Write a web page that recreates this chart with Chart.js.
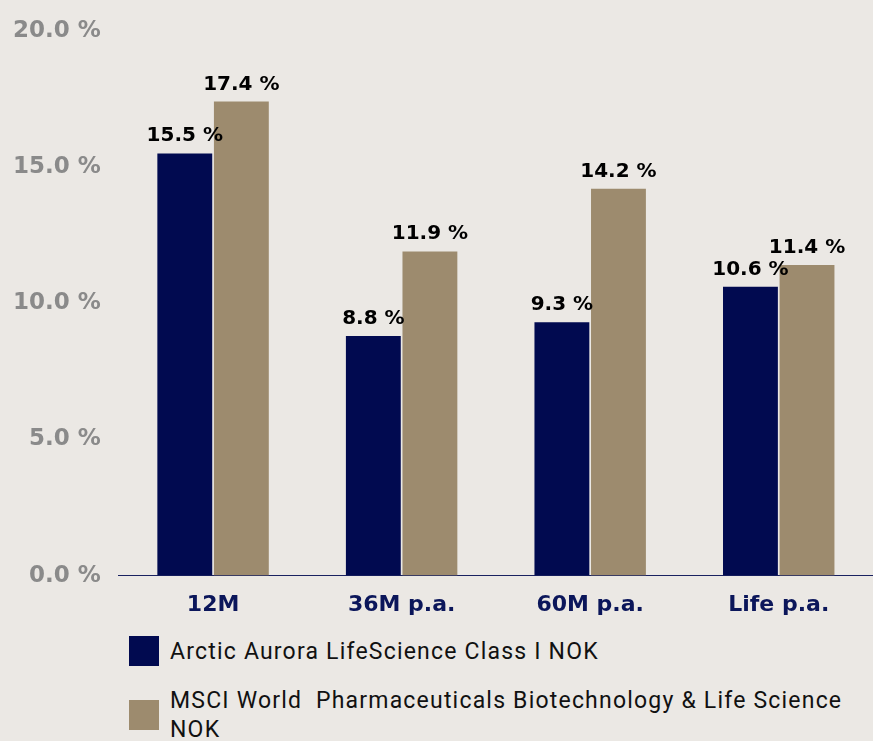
<html>
<head>
    <title>Returns Chart</title>
    <script src="https://cdn.jsdelivr.net/npm/chart.js@4.4.0/dist/chart.umd.min.js"></script>
    <style>
        body { margin: 0; background: #ebe8e4; width: 873px; height: 741px; overflow: hidden; position: relative; }
        #wrap { position: absolute; left: 0; top: 7px; width: 873px; height: 619px; }
        #legend { position: absolute; left: 129px; top: 636px; width: 735px; font-family: Roboto, sans-serif; font-size: 23px; letter-spacing: 1.2px; color: #111; }
        .item { display: flex; align-items: center; margin-bottom: 20px; }
        .box { width: 30px; height: 30px; flex: none; margin-right: 11px; }
        .item span { line-height: 29px; }
    </style>
</head>
<body>
    <div id="wrap"><canvas id="chart"></canvas></div>
    <div id="legend"></div>

    <script>
        // data
        const categories = ['12M', '36M p.a.', '60M p.a.', 'Life p.a.'];
        const fundValues = [15.5, 8.8, 9.3, 10.6];
        const indexValues = [17.4, 11.9, 14.2, 11.4];
        const seriesNames = ['Arctic Aurora LifeScience Class I NOK', 'MSCI World  Pharmaceuticals Biotechnology & Life Science NOK'];
        const yTicks = [0, 5, 10, 15, 20];

        const colors = ['#010a50', '#9d8b6e'];
        const labelFont = '"DejaVu Sans", sans-serif';

        // draws the value above each bar
        const valueLabels = {
            id: 'valueLabels',
            afterDatasetsDraw(chart) {
                const ctx = chart.ctx;
                ctx.save();
                ctx.font = 'bold 20px ' + labelFont;
                ctx.fillStyle = '#000';
                ctx.textAlign = 'center';
                ctx.textBaseline = 'alphabetic';
                chart.data.datasets.forEach((ds, i) => {
                    chart.getDatasetMeta(i).data.forEach((bar, j) => {
                        ctx.fillText(ds.data[j].toFixed(1) + ' %', bar.x, bar.y - 12);
                    });
                });
                ctx.restore();
            }
        };

        const chart = new Chart(document.getElementById('chart'), {
            type: 'bar',
            data: {
                labels: categories,
                datasets: [
                    { label: seriesNames[0], data: fundValues, backgroundColor: colors[0], categoryPercentage: 0.6, barPercentage: 0.97 },
                    { label: seriesNames[1], data: indexValues, backgroundColor: colors[1], categoryPercentage: 0.6, barPercentage: 0.97 }
                ]
            },
            options: {
                responsive: true,
                maintainAspectRatio: false,
                animation: false,
                layout: { padding: { top: 16, right: 0, left: 3 } },
                plugins: {
                    legend: { display: false },
                    tooltip: { enabled: false }
                },
                scales: {
                    x: {
                        grid: { display: false },
                        border: { display: true, color: '#1a2260', width: 1 },
                        ticks: { color: '#0b165a', font: { family: labelFont, size: 22, weight: 'bold' }, padding: 8 }
                    },
                    y: {
                        min: 0,
                        max: 20,
                        afterBuildTicks(axis) { axis.ticks = yTicks.map(v => ({ value: v })); },
                        grid: { display: false },
                        border: { display: false },
                        ticks: {
                            color: '#8a8a8a',
                            font: { family: labelFont, size: 23, weight: 'bold' },
                            padding: 10,
                            callback: v => v.toFixed(1) + ' %'
                        }
                    }
                }
            },
            plugins: [valueLabels]
        });

        // legend below the chart (wraps long names)
        const legend = document.getElementById('legend');
        seriesNames.forEach((name, i) => {
            const item = document.createElement('div');
            item.className = 'item';
            item.innerHTML = `<div class="box" style="background:${colors[i]}"></div><span style="white-space:pre-wrap">${name.replace('&', '&amp;')}</span>`;
            legend.appendChild(item);
        });
    </script>
</body>
</html>
